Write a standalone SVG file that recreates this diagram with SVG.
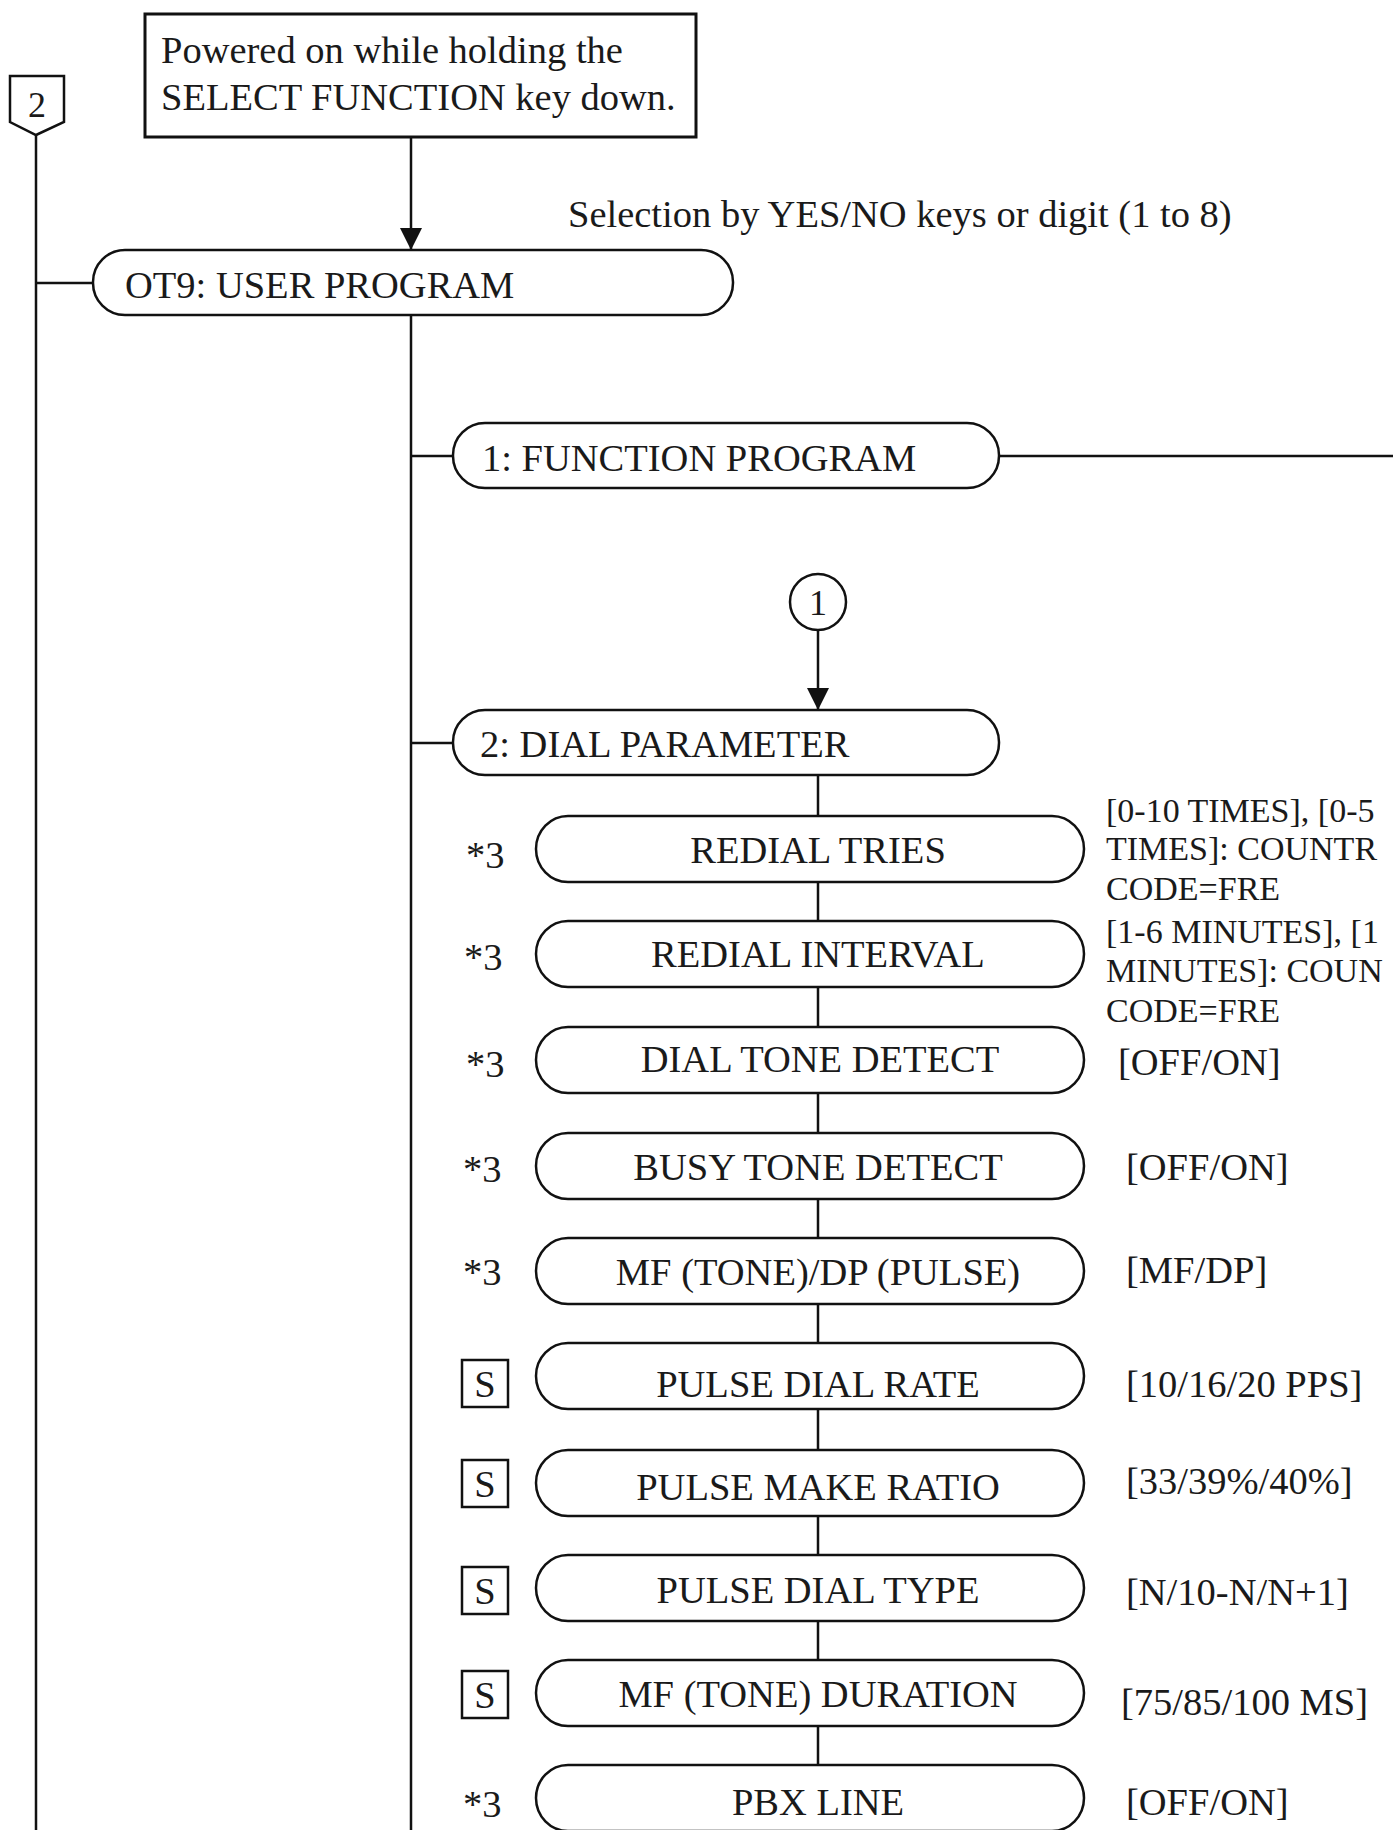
<svg xmlns="http://www.w3.org/2000/svg" width="1393" height="1830" viewBox="0 0 1393 1830">
<style>
.ln{stroke:#111;stroke-width:2.5;fill:none}
.pill{fill:#fff;stroke:#111;stroke-width:2.5}
.box{fill:#fff;stroke:#111;stroke-width:2.5}
.t{font-family:"Liberation Serif","Times New Roman",serif;font-size:38.5px;fill:#1a1a1a}
.sm{font-size:34px}
.c{text-anchor:middle}
</style>
<defs>
<marker id="ah" viewBox="0 0 24 24" markerWidth="22" markerHeight="24" refX="24" refY="12" orient="auto" markerUnits="userSpaceOnUse">
<path d="M0,0 L24,12 L0,24 z" fill="#111"/>
</marker>
</defs>
<g id="connectors">
<line class="ln" x1="36" y1="135" x2="36" y2="1830"/>
<line class="ln" x1="36" y1="283" x2="93" y2="283"/>
<line class="ln" x1="411" y1="137" x2="411" y2="250" marker-end="url(#ah)"/>
<line class="ln" x1="411" y1="315" x2="411" y2="1830"/>
<line class="ln" x1="411" y1="456" x2="453" y2="456"/>
<line class="ln" x1="999" y1="456" x2="1393" y2="456"/>
<line class="ln" x1="411" y1="743" x2="453" y2="743"/>
<line class="ln" x1="818" y1="630" x2="818" y2="710" marker-end="url(#ah)"/>
<line class="ln" x1="818" y1="775" x2="818" y2="1766"/>
</g>
<g id="start-box">
<rect class="box" x="145" y="14" width="551" height="123" style="stroke-width:3"/>
<text class="t" x="161" y="63">Powered on while holding the</text>
<text class="t" x="161" y="110">SELECT FUNCTION key down.</text>
</g>
<g id="offpage-2">
<path class="box" d="M10,76 L64,76 L64,122 L36,135 L10,122 z"/>
<text class="t c" x="37" y="117" style="font-size:36px">2</text>
</g>
<g id="selection-note">
<text class="t" x="568" y="227">Selection by YES/NO keys or digit (1 to 8)</text>
</g>
<g id="ot9">
<rect class="pill" x="93" y="250" width="640" height="65" rx="32" ry="32"/>
<text class="t" x="125" y="298">OT9: USER PROGRAM</text>
</g>
<g id="function-program">
<rect class="pill" x="453" y="423" width="546" height="65" rx="32" ry="32"/>
<text class="t" x="482" y="471">1: FUNCTION PROGRAM</text>
</g>
<g id="connector-1">
<circle class="box" cx="818" cy="602" r="28"/>
<text class="t c" x="818" y="615" style="font-size:36px">1</text>
</g>
<g id="dial-parameter">
<rect class="pill" x="453" y="710" width="546" height="65" rx="32" ry="32"/>
<text class="t" x="480" y="757">2: DIAL PARAMETER</text>
</g>
<g id="redial-tries">
<text class="t" x="466" y="868">*3</text>
<rect class="pill" x="536" y="816" width="548" height="66" rx="32" ry="33"/>
<text class="t c" x="818" y="863">REDIAL TRIES</text>
<text class="t sm" x="1106" y="822">[0-10 TIMES], [0-5</text>
<text class="t sm" x="1106" y="860">TIMES]: COUNTR</text>
<text class="t sm" x="1106" y="900">CODE=FRE</text>
</g>
<g id="redial-interval">
<text class="t" x="464" y="970">*3</text>
<rect class="pill" x="536" y="921" width="548" height="66" rx="32" ry="33"/>
<text class="t c" x="818" y="967">REDIAL INTERVAL</text>
<text class="t sm" x="1106" y="943">[1-6 MINUTES], [1</text>
<text class="t sm" x="1106" y="982">MINUTES]: COUN</text>
<text class="t sm" x="1106" y="1022">CODE=FRE</text>
</g>
<g id="dial-tone-detect">
<text class="t" x="466" y="1077">*3</text>
<rect class="pill" x="536" y="1027" width="548" height="66" rx="32" ry="33"/>
<text class="t c" x="820" y="1072">DIAL TONE DETECT</text>
<text class="t" x="1118" y="1075">[OFF/ON]</text>
</g>
<g id="busy-tone-detect">
<text class="t" x="463" y="1182">*3</text>
<rect class="pill" x="536" y="1133" width="548" height="66" rx="32" ry="33"/>
<text class="t c" x="818" y="1180">BUSY TONE DETECT</text>
<text class="t" x="1126" y="1180">[OFF/ON]</text>
</g>
<g id="mf-dp">
<text class="t" x="463" y="1285">*3</text>
<rect class="pill" x="536" y="1238" width="548" height="66" rx="32" ry="33"/>
<text class="t c" x="818" y="1285">MF (TONE)/DP (PULSE)</text>
<text class="t" x="1126" y="1283">[MF/DP]</text>
</g>
<g id="pulse-dial-rate">
<rect class="box" x="462" y="1360" width="46" height="47"/>
<text class="t c" x="485" y="1397">S</text>
<rect class="pill" x="536" y="1343" width="548" height="66" rx="32" ry="33"/>
<text class="t c" x="818" y="1397">PULSE DIAL RATE</text>
<text class="t" x="1126" y="1397">[10/16/20 PPS]</text>
</g>
<g id="pulse-make-ratio">
<rect class="box" x="462" y="1460" width="46" height="47"/>
<text class="t c" x="485" y="1497">S</text>
<rect class="pill" x="536" y="1450" width="548" height="66" rx="32" ry="33"/>
<text class="t c" x="818" y="1500">PULSE MAKE RATIO</text>
<text class="t" x="1126" y="1494">[33/39%/40%]</text>
</g>
<g id="pulse-dial-type">
<rect class="box" x="462" y="1567" width="46" height="47"/>
<text class="t c" x="485" y="1604">S</text>
<rect class="pill" x="536" y="1555" width="548" height="66" rx="32" ry="33"/>
<text class="t c" x="818" y="1603">PULSE DIAL TYPE</text>
<text class="t" x="1126" y="1605">[N/10-N/N+1]</text>
</g>
<g id="mf-duration">
<rect class="box" x="462" y="1671" width="46" height="47"/>
<text class="t c" x="485" y="1708">S</text>
<rect class="pill" x="536" y="1660" width="548" height="66" rx="32" ry="33"/>
<text class="t c" x="818" y="1707">MF (TONE) DURATION</text>
<text class="t" x="1121" y="1715">[75/85/100 MS]</text>
</g>
<g id="pbx-line">
<text class="t" x="463" y="1817">*3</text>
<rect class="pill" x="536" y="1765" width="548" height="66" rx="32" ry="33"/>
<text class="t c" x="818" y="1815">PBX LINE</text>
<text class="t" x="1126" y="1815">[OFF/ON]</text>
</g>
</svg>
